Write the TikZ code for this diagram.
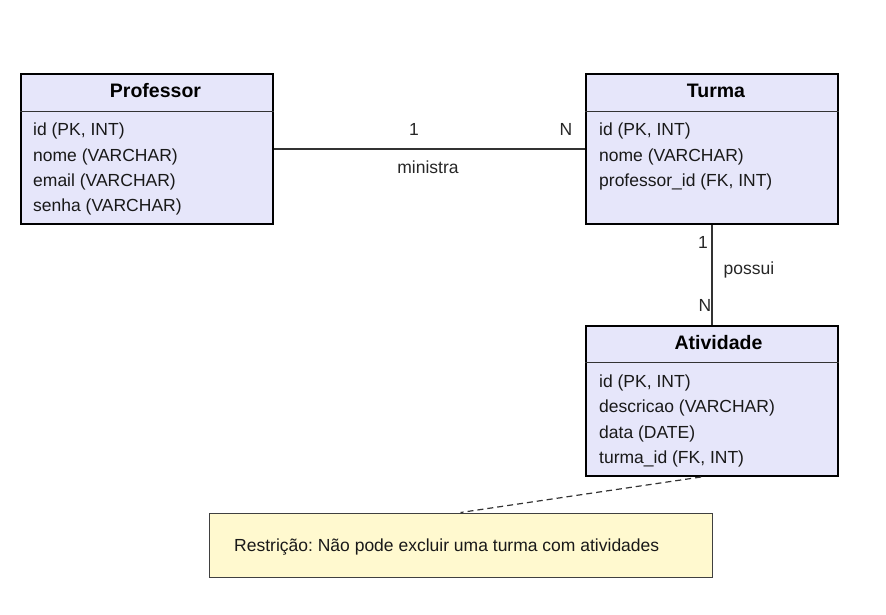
\documentclass[tikz,border=0pt]{standalone}
\usepackage{fontspec}
\setmainfont{Liberation Sans}
\frenchspacing
\definecolor{entfill}{HTML}{E6E6FA}
\definecolor{notefill}{HTML}{FFF9CF}
\definecolor{linec}{HTML}{333333}
\begin{document}
\begin{tikzpicture}[x=1pt,y=-1pt,
  entity/.style={draw=black,line width=2pt,fill=entfill,anchor=north west,inner sep=0pt,minimum width=252pt,minimum height=150pt},
  notebox/.style={draw=black!75,line width=1pt,fill=notefill,anchor=north west,inner sep=0pt,minimum width=503pt,minimum height=64pt},
  title/.style={font=\fontsize{19.5}{22}\selectfont\bfseries,anchor=base},
  attr/.style={font=\fontsize{17.5}{20}\selectfont,anchor=base west,inner sep=0pt,text=black!90},
  lbl/.style={font=\fontsize{17.5}{20}\selectfont,anchor=base,inner sep=0pt,text=black!85},
  sep/.style={draw=black!80,line width=1pt},
  conn/.style={draw=linec,line width=1.3pt}]
\useasboundingbox (0,0) rectangle (886,614);

% Professor
\node[entity] (prof) at (20,73) {};
\draw[sep] (prof.west |- 0,111) -- (prof.east |- 0,111);
\node[title] (proft) at (155.5,97.5) {Professor};
\node[attr] (p1) at (33,135) {id (PK, INT)};
\node[attr] (p2) at (33,161) {nome (VARCHAR)};
\node[attr] (p3) at (33,186) {email (VARCHAR)};
\node[attr] (p4) at (33,211) {senha (VARCHAR)};

% Turma
\node[entity] (turma) at (585,73) {};
\draw[sep] (turma.west |- 0,111) -- (turma.east |- 0,111);
\node[title] (turmat) at (716,97.5) {Turma};
\node[attr] (t1) at (599,135) {id (PK, INT)};
\node[attr] (t2) at (599,161) {nome (VARCHAR)};
\node[attr] (t3) at (599,186) {professor\_id (FK, INT)};

% Atividade
\node[entity] (ativ) at (585,325) {};
\draw[sep] (ativ.west |- 0,362) -- (ativ.east |- 0,362);
\node[title] (ativt) at (718.5,349) {Atividade};
\node[attr] (a1) at (599,387) {id (PK, INT)};
\node[attr] (a2) at (599,412) {descricao (VARCHAR)};
\node[attr] (a3) at (599,438) {data (DATE)};
\node[attr] (a4) at (599,463) {turma\_id (FK, INT)};

% Note
\node[notebox] (nota) at (208.5,512.5) {};
\node[attr] (notat) at (234,551) {Restrição: Não pode excluir uma turma com atividades};

% Connectors
\draw[conn] (prof.east) -- (turma.west);
\node[lbl] (l1) at (414,135) {1};
\node[lbl] (l2) at (566,135) {N};
\node[lbl] (l3) at (428,173) {ministra};

\draw[conn] (turma.south) -- (ativ.north);
\node[lbl] (l4) at (703,248) {1};
\node[lbl] (l5) at (749,274) {possui};
\node[lbl] (l6) at (705,311) {N};

\draw[conn,line width=1.2pt,dash pattern=on 6pt off 4pt] ([xshift=-11pt]ativ.south) -- (nota.north);
\end{tikzpicture}
\end{document}
